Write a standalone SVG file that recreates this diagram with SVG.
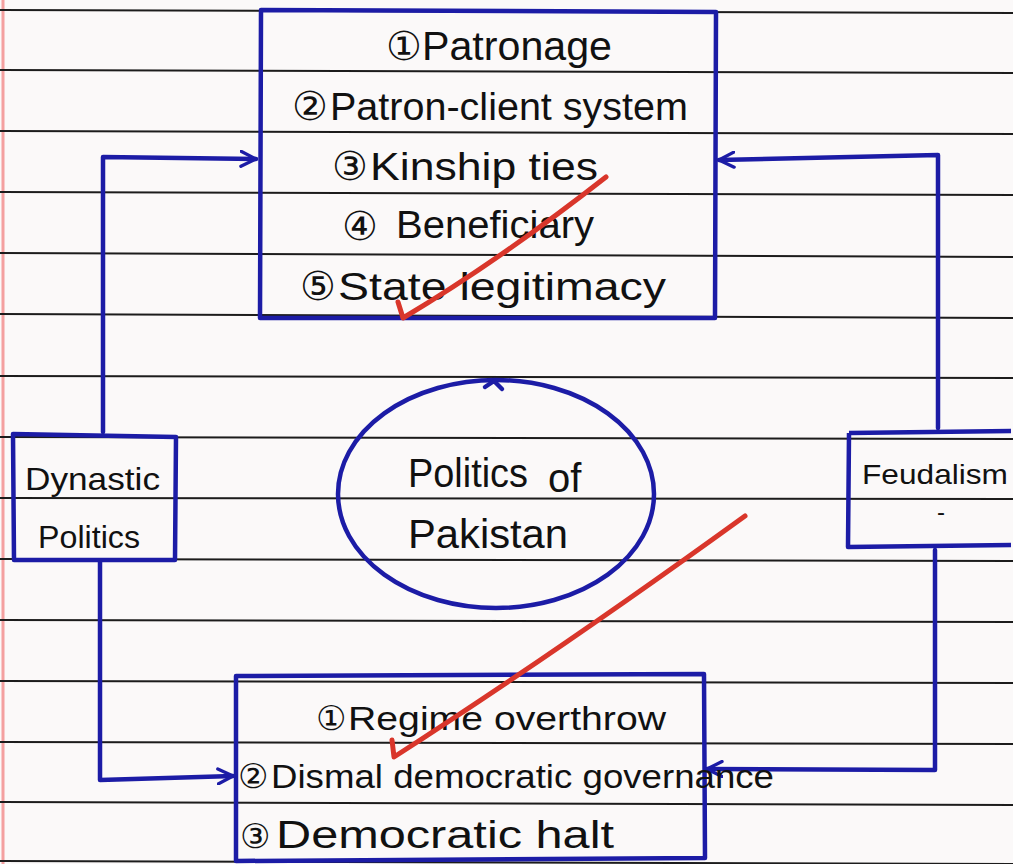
<svg xmlns="http://www.w3.org/2000/svg" width="1013" height="864" viewBox="0 0 1013 864">
<style>
.rule{stroke:#1c1c1c;stroke-width:2;fill:none}
.box{fill:none;stroke:#1c1ca6;stroke-width:4.5;stroke-linejoin:round}
.conn{fill:none;stroke:#1c1ca6;stroke-width:4.5;stroke-linecap:round;stroke-linejoin:round}
.txt{font-family:"Liberation Sans","DejaVu Sans",sans-serif;fill:#111}
.num{font-family:"DejaVu Sans",sans-serif;fill:#111}
.tick{fill:none;stroke:#d9362b;stroke-width:5;stroke-linecap:round;stroke-linejoin:round}
</style>
<defs>
<marker id="ah" viewBox="0 0 12 12" refX="11" refY="6" markerWidth="4" markerHeight="4" orient="auto" markerUnits="strokeWidth">
<path d="M1,1 L11,6 L1,11" fill="none" stroke="#1c1ca6" stroke-width="2.2" stroke-linecap="round" stroke-linejoin="round"/>
</marker>
</defs>
<rect width="1013" height="864" fill="#fbf9f9"/>
<line x1="3" y1="0" x2="3" y2="864" stroke="#f4a0a0" stroke-width="3"/>
<g id="paper-lines">
<line class="rule" x1="0" y1="10" x2="1013" y2="13"/>
<line class="rule" x1="0" y1="70" x2="1013" y2="73"/>
<line class="rule" x1="0" y1="131" x2="1013" y2="134"/>
<line class="rule" x1="0" y1="192" x2="1013" y2="195"/>
<line class="rule" x1="0" y1="253" x2="1013" y2="257"/>
<line class="rule" x1="0" y1="314" x2="1013" y2="318"/>
<line class="rule" x1="0" y1="376" x2="1013" y2="378"/>
<line class="rule" x1="0" y1="437" x2="1013" y2="439"/>
<line class="rule" x1="0" y1="498" x2="1013" y2="499"/>
<line class="rule" x1="0" y1="559" x2="1013" y2="561"/>
<line class="rule" x1="0" y1="620" x2="1013" y2="622"/>
<line class="rule" x1="0" y1="681" x2="1013" y2="683"/>
<line class="rule" x1="0" y1="742" x2="1013" y2="744"/>
<line class="rule" x1="0" y1="802" x2="1013" y2="805"/>
<line class="rule" x1="0" y1="861" x2="1013" y2="864"/>
</g>
<g id="connectors">
<path class="conn" d="M103,432 L103,157 L256,159" marker-end="url(#ah)"/>
<path class="conn" d="M938,428 L938,155 L719,160" marker-end="url(#ah)"/>
<path class="conn" d="M100,562 L100,780 L233,776" marker-end="url(#ah)"/>
<path class="conn" d="M935,550 L935,770 L707,769" marker-end="url(#ah)"/>
</g>
<g id="top-box">
<path class="box" d="M261,10 L716,12 L715,318 L260,318 Z"/>
<text class="num" x="386" y="60" font-size="40">①</text>
<text class="txt" x="422" y="60" font-size="40" textLength="190" lengthAdjust="spacingAndGlyphs">Patronage</text>
<text class="num" x="292" y="120" font-size="40">②</text>
<text class="txt" x="330" y="120" font-size="38" textLength="358" lengthAdjust="spacingAndGlyphs">Patron-client system</text>
<text class="num" x="332" y="180" font-size="40">③</text>
<text class="txt" x="370" y="180" font-size="38" textLength="228" lengthAdjust="spacingAndGlyphs">Kinship ties</text>
<text class="num" x="342" y="240" font-size="40">④</text>
<text class="txt" x="396" y="238" font-size="38" textLength="198" lengthAdjust="spacingAndGlyphs">Beneficiary</text>
<text class="num" x="300" y="300" font-size="40">⑤</text>
<text class="txt" x="338" y="300" font-size="38" textLength="328" lengthAdjust="spacingAndGlyphs">State legitimacy</text>
</g>
<g id="dynastic-politics">
<path class="box" d="M13,434 L176,437 L175,560 L14,560 Z"/>
<text class="txt" x="25" y="490" font-size="32" textLength="135" lengthAdjust="spacingAndGlyphs">Dynastic</text>
<text class="txt" x="38" y="548" font-size="32" textLength="102" lengthAdjust="spacingAndGlyphs">Politics</text>
</g>
<g id="feudalism">
<path class="box" d="M849,433 L1011,431 M849,433 L848,547 L1011,545"/>
<text class="txt" x="862" y="484" font-size="28" textLength="146" lengthAdjust="spacingAndGlyphs">Feudalism</text>
<text class="txt" x="937" y="520" font-size="24">-</text>
</g>
<g id="politics-of-pakistan">
<ellipse cx="496" cy="494" rx="158" ry="114" fill="none" stroke="#1c1ca6" stroke-width="4.5"/>
<path class="conn" d="M485,387 L494,381 L502,389" stroke-width="3"/>
<text class="txt" x="408" y="487" font-size="40" textLength="120" lengthAdjust="spacingAndGlyphs">Politics</text>
<text class="txt" x="548" y="492" font-size="40">of</text>
<text class="txt" x="408" y="548" font-size="40" textLength="160" lengthAdjust="spacingAndGlyphs">Pakistan</text>
</g>
<g id="bottom-box">
<path class="box" d="M236,676 L704,674 L705,858 L236,861 Z"/>
<text class="num" x="316" y="730" font-size="34">①</text>
<text class="txt" x="348" y="730" font-size="34" textLength="318" lengthAdjust="spacingAndGlyphs">Regime overthrow</text>
<text class="num" x="238" y="788" font-size="34">②</text>
<text class="txt" x="271" y="788" font-size="34" textLength="503" lengthAdjust="spacingAndGlyphs">Dismal democratic governance</text>
<text class="num" x="240" y="848" font-size="34">③</text>
<text class="txt" x="276" y="848" font-size="38" textLength="338" lengthAdjust="spacingAndGlyphs">Democratic halt</text>
</g>
<g id="red-ticks">
<path class="tick" d="M398,302 L403,318 Q500,260 606,177"/>
<path class="tick" d="M392,740 L394,757 Q560,650 745,516"/>
</g>
</svg>
